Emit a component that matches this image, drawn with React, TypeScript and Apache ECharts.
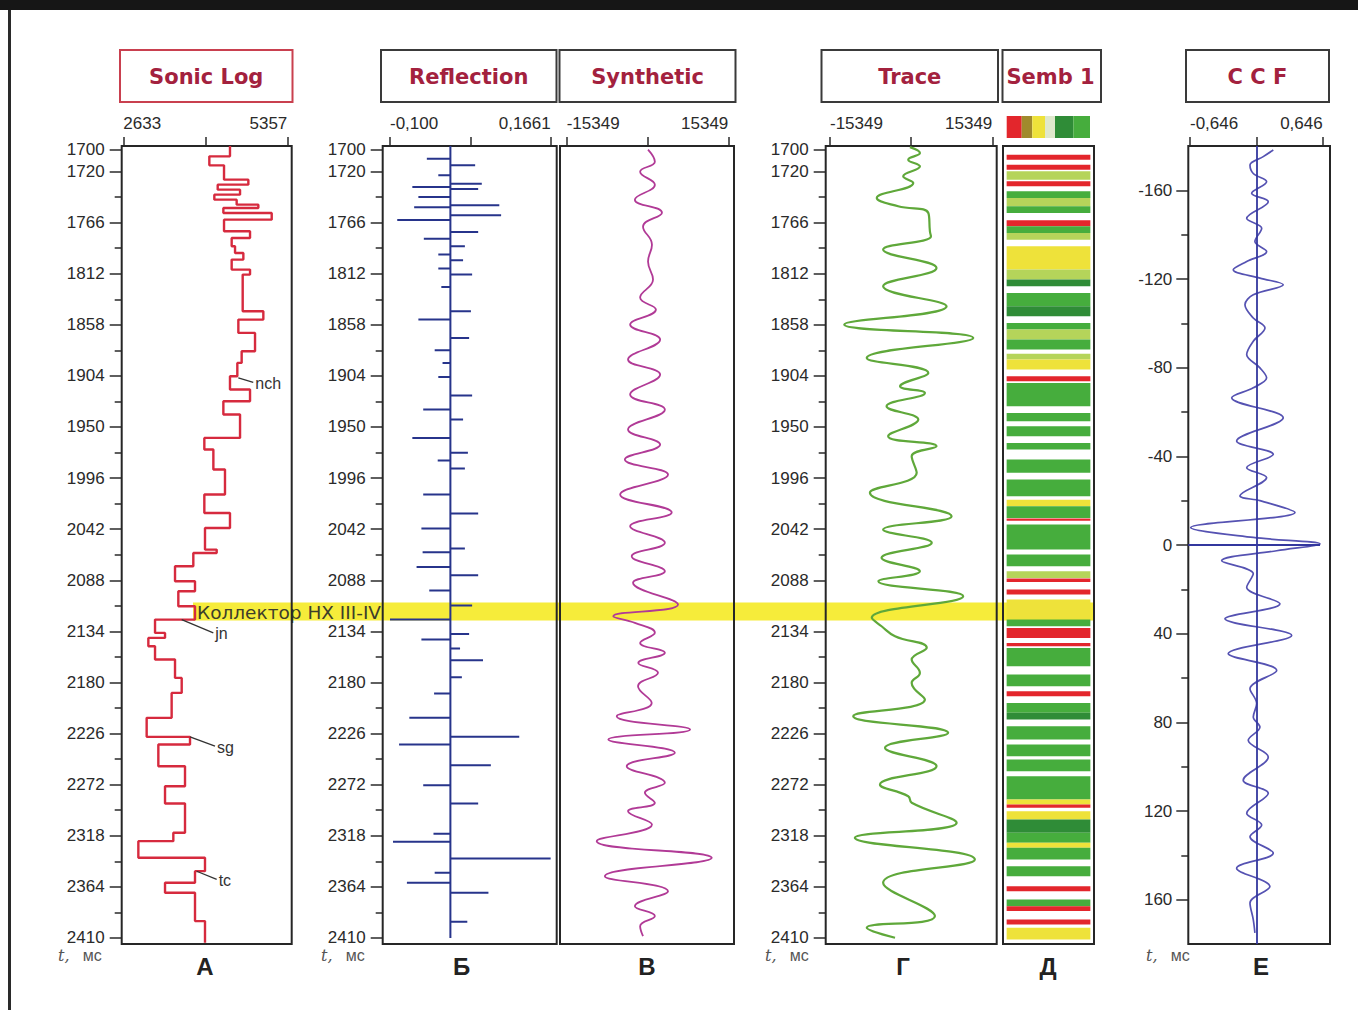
import React, { useEffect, useRef } from "react";
import * as echarts from "echarts";

// ---------------- texts ----------------
const panelTitles = ["Sonic Log", "Reflection", "Synthetic", "Trace", "Semb 1", "C C F"];
const panelLetters = ["А", "Б", "В", "Г", "Д", "Е"];
const unitText = "мс";
const collectorLabel = "Коллектор НХ III-IV";

// ---------------- axes ----------------
const timeRange = [1697, 2415.5];
const timeMajorTicks = [1700, 1720, 1766, 1812, 1858, 1904, 1950, 1996, 2042, 2088, 2134, 2180, 2226, 2272, 2318, 2364, 2410];
const timeMinorTicks = [1743, 1789, 1835, 1881, 1927, 1973, 2019, 2065, 2111, 2157, 2203, 2249, 2295, 2341, 2387];
const lagRange = [-180, 180];
const lagMajorTicks = [-160, -120, -80, -40, 0, 40, 80, 120, 160];
const lagMinorTicks = [-140, -100, -60, -20, 20, 60, 100, 140];

const sonicRange = [2633, 5357];
const sonicTickLabels = ["2633", "5357"];
const reflRange = [-0.1, 0.1661];
const reflTickLabels = ["-0,100", "0,1661"];
const synthRange = [-15349, 15349];
const synthTickLabels = ["-15349", "15349"];
const traceRange = [-15349, 15349];
const traceTickLabels = ["-15349", "15349"];
const ccfRange = [-0.646, 0.646];
const ccfTickLabels = ["-0,646", "0,646"];

// ---------------- Sonic log (step: top time of each layer, velocity) ----------------
const sonicTop = [1697, 1706.3, 1714.4, 1727.3, 1731.8, 1736.3, 1740.8, 1745.3, 1749.8, 1752.8, 1757.3, 1763.3, 1773.8, 1779.8, 1787.3, 1793.3, 1799.3, 1808.3, 1812.8, 1845.8, 1853.3, 1865.3, 1881.8, 1892.3, 1904.3, 1916.3, 1926.8, 1938.8, 1959.8, 1970.3, 1988.3, 2010.8, 2027.4, 2040.9, 2060.4, 2063.4, 2075.4, 2088.9, 2097.9, 2111.4, 2123.4, 2135.4, 2139.9, 2147.4, 2159.4, 2175.9, 2189.4, 2211.9, 2229.0, 2235.9, 2255.4, 2273.4, 2289.0, 2315.4, 2322.9, 2337.9, 2349.9, 2360.4, 2369.4, 2394.9];
const sonicVel = [4405, 4062, 4306, 4710, 4201, 4572, 4145, 4516, 4876, 4295, 5098, 4306, 4738, 4433, 4489, 4627, 4433, 4738, 4616, 4959, 4544, 4821, 4599, 4527, 4405, 4738, 4295, 4572, 3979, 4129, 4322, 3979, 4405, 3990, 4184, 3796, 3492, 3824, 3547, 3824, 3160, 3326, 3049, 3160, 3492, 3603, 3436, 3021, 3741, 3215, 3658, 3326, 3658, 3464, 2883, 3990, 3824, 3326, 3824, 3990];
const sonicBottom = 2414.4;

// annotations on the sonic log
const annotationNames = ["nch", "jn", "sg", "tc"];
const annotationTime = [1905.8, 2123.4, 2229, 2350];
const annotationVel = [4543, 3603, 3741, 3852];
const annotationLabelTime = [1909.8, 2135.3, 2237.4, 2357.4];
const annotationLabelVel = [4792, 4128, 4156, 4184];

// ---------------- Reflection coefficients ----------------
const reflSpine = [1697, 2410];
const reflTime = [1708.4, 1714.4, 1723.4, 1730.9, 1733.9, 1735.7, 1742.9, 1750.4, 1752.2, 1759.4, 1763.6, 1774.4, 1780.4, 1787.3, 1794.8, 1799.9, 1807.4, 1812.8, 1823.9, 1845.8, 1853.3, 1869.8, 1880.9, 1892.3, 1904.9, 1921.7, 1934.3, 1943.3, 1959.8, 1973.3, 1980.2, 1987.4, 2010.8, 2028.0, 2041.5, 2059.5, 2062.8, 2076.0, 2083.5, 2097.3, 2110.8, 2123.4, 2136.3, 2141.4, 2149.5, 2160.0, 2175.3, 2190.0, 2211.9, 2229.0, 2235.9, 2254.5, 2272.5, 2289.0, 2316.3, 2323.5, 2338.5, 2351.4, 2360.4, 2369.4, 2395.5];
const reflCoef = [-0.039, 0.041, -0.020, 0.052, -0.063, 0.046, -0.053, 0.081, -0.060, 0.084, -0.088, 0.046, -0.044, 0.024, -0.020, 0.021, -0.020, 0.036, -0.015, 0.034, -0.053, 0.031, -0.026, -0.013, -0.020, 0.036, -0.045, 0.021, -0.063, 0.029, -0.021, 0.024, -0.045, 0.046, -0.048, 0.024, -0.046, -0.056, 0.046, -0.035, 0.036, -0.100, 0.031, -0.048, 0.016, 0.054, 0.019, -0.027, -0.068, 0.114, -0.085, 0.067, -0.045, 0.046, -0.028, -0.095, 0.166, -0.026, -0.072, 0.063, 0.028];

// ---------------- Synthetic seismogram ----------------
const synthTime = [1700.3, 1711.1, 1720.1, 1731.8, 1745.3, 1757.0, 1769.6, 1785.8, 1801.1, 1817.3, 1833.5, 1844.3, 1857.8, 1871.3, 1889.3, 1902.8, 1920.8, 1934.3, 1952.3, 1965.8, 1979.3, 1992.8, 2010.8, 2027.0, 2039.4, 2054.3, 2066.4, 2079.9, 2090.3, 2109.9, 2120.4, 2126.4, 2135.3, 2144.4, 2153.3, 2162.4, 2171.3, 2183.4, 2198.4, 2210.4, 2222.4, 2231.4, 2243.4, 2255.4, 2270.4, 2279.4, 2288.4, 2295.9, 2307.9, 2322.9, 2337.9, 2354.4, 2368.0, 2381.5, 2390.4, 2399.5, 2408.5];
const synthAmp = [100, 1400, -1400, 1400, -2400, 2750, -850, 850, 100, 1050, -1400, 1600, -3300, 2400, -3700, 2400, -3300, 3300, -3700, 2400, -4300, 3900, -5200, 4600, -3300, 3300, -3000, 3300, -2750, 5800, -6500, -2400, 1400, -1400, 3300, -1750, 2000, -1800, 800, -5850, 8100, -7450, 5200, -3950, 3300, -500, 1400, -3700, 850, -9650, 12200, -8100, 3900, -2400, 1400, -1400, -850];

// ---------------- Field trace ----------------
const traceTime = [1698, 1703.3, 1709.3, 1715.3, 1724.3, 1730.3, 1743.8, 1751.3, 1757.3, 1773.8, 1778.3, 1790.3, 1806.8, 1823.3, 1841.3, 1857.8, 1869.8, 1887.8, 1901.3, 1913.4, 1919.3, 1931.4, 1943.3, 1958.4, 1967.4, 1976.4, 1991.3, 2009.3, 2030.4, 2042.4, 2054.3, 2067.8, 2079.9, 2088.9, 2102.4, 2121.8, 2129.4, 2138.4, 2148.8, 2159.4, 2171.4, 2180.4, 2195.4, 2210.4, 2225.4, 2238.9, 2255.4, 2271.9, 2282.4, 2288.4, 2306.4, 2319.9, 2339.4, 2360.4, 2390.4, 2400.9, 2409.9];
const traceAmp = [-230, 1660, -550, 1660, -1500, 400, -6500, -2450, 3250, 3550, 3750, -5300, 4800, -5300, 6700, -12650, 11750, -8400, 3250, -2100, 2600, -4650, 1350, -4350, 4800, 100, 1050, -7800, 7650, -5300, 3900, -5600, 1650, -6200, 9850, -7450, -5600, -3050, 2950, 100, 1650, 100, 2600, -10950, 7000, -4950, 4800, -5900, -550, 100, 8600, -10650, 12050, -5300, 4500, -8400, -3050];

// ---------------- Semblance stripes ----------------
const sembStart = [1704.8, 1713.8, 1719.8, 1728.8, 1737.8, 1743.8, 1751.3, 1763.9, 1769.3, 1775.3, 1787.3, 1808.3, 1817.3, 1829.3, 1841.3, 1856.3, 1862.3, 1871.3, 1884, 1889.3, 1904.3, 1910.3, 1937.3, 1949.3, 1964.3, 1979.3, 1997.3, 2015.4, 2021.4, 2032.5, 2037.9, 2064.9, 2079.9, 2086.5, 2096.4, 2105.4, 2123.4, 2130.9, 2144.4, 2148.9, 2172.9, 2187.9, 2198.4, 2207.4, 2219.4, 2235.9, 2249.4, 2264.4, 2285.4, 2289.9, 2295.9, 2303.4, 2315.4, 2324.4, 2328.9, 2345.4, 2363.4, 2375.4, 2381.4, 2393.4, 2400.9];
const sembEnd = [1709.3, 1718.3, 1727.3, 1733.3, 1743.8, 1751.3, 1757.3, 1769.3, 1775.3, 1781.3, 1808.3, 1817.3, 1823.3, 1841.3, 1850.3, 1862.3, 1871.3, 1880.3, 1889.3, 1898.3, 1908.8, 1931.3, 1944.8, 1958.3, 1970.3, 1991.3, 2012.3, 2021.4, 2031.9, 2034.5, 2060.4, 2075.4, 2085.9, 2089.5, 2100.9, 2123.4, 2129.4, 2139.9, 2147.4, 2165.4, 2183.4, 2192.4, 2207.4, 2213.4, 2231.4, 2246.4, 2259.9, 2285.4, 2289.9, 2292.9, 2303.4, 2315.4, 2324.4, 2328.9, 2339.4, 2354.4, 2367.9, 2381.4, 2385.9, 2397.9, 2411.4];
const sembClass = ["R", "R", "L", "R", "G", "L", "G", "R", "G", "L", "Y", "L", "D", "G", "D", "G", "L", "G", "L", "Y", "R", "G", "G", "G", "G", "G", "G", "Y", "G", "R", "G", "G", "L", "R", "R", "Y", "G", "R", "R", "G", "G", "R", "G", "D", "G", "G", "G", "G", "Y", "R", "Y", "D", "G", "Y", "G", "G", "R", "G", "R", "R", "Y"];
const sembLegendClasses = ["R", "O", "Y", "P", "D", "G"];

// ---------------- Cross-correlation function ----------------
const ccfLag = [-178.2, -175.2, -171.4, -167.6, -163.9, -158.7, -154.9, -147.4, -142.9, -136.9, -132.4, -127.9, -124.2, -120.4, -117.4, -112.9, -108.4, -102.4, -97.9, -91.9, -85.9, -79.9, -75.4, -70.9, -66.4, -57.4, -46.9, -40.9, -34.9, -30.4, -22.2, -20.0, -14.7, -7.9, -3.4, -0.45, 2.6, 7.1, 13.0, 19.1, 26.5, 33.3, 40.8, 49.0, 56.6, 64.8, 71.5, 77.6, 82.1, 88.1, 95.6, 106.1, 112.0, 121.0, 126.3, 131.6, 139.0, 145.8, 154.1, 161.5, 169.0, 175.0];
const ccfValue = [0.165, 0.067, -0.062, -0.030, 0.100, -0.046, 0.116, -0.094, 0.052, -0.014, 0.100, -0.094, -0.225, 0.035, 0.262, -0.030, -0.111, -0.030, 0.084, -0.030, -0.094, 0.035, 0.100, -0.030, -0.240, 0.262, -0.192, 0.165, -0.094, 0.100, -0.160, 0.035, 0.376, -0.640, -0.030, 0.620, 0.198, -0.338, -0.030, -0.094, 0.230, -0.306, 0.344, -0.274, 0.198, -0.062, 0.003, -0.030, 0.035, -0.079, 0.116, -0.128, 0.116, -0.094, 0.052, -0.062, 0.165, -0.192, 0.132, -0.062, -0.030, -0.014];

// collector interval (time)
const collectorTime = [2108.1, 2124.3];

// ---------------- layout & style ----------------
const W = 1358;
const H = 1010;
const BOX_TOP = 146;
const BOX_H = 798;
const SANS = "'Liberation Sans', Arial, sans-serif";
const TITLE_FONT = "'DejaVu Sans', Verdana, sans-serif";
const INK = "#2a2a2a";

const layouts = [
  { left: 121.7, width: 170, padLo: 1.6, padHi: 4.4 },
  { left: 382.7, width: 174, padLo: 7.3, padHi: 6 },
  { left: 560, width: 174, padLo: 6.7, padHi: 5.7 },
  { left: 825.7, width: 171, padLo: 4.3, padHi: 4.4 },
  { left: 1003, width: 91, padLo: 0, padHi: 0 },
  { left: 1188.3, width: 141.7, padLo: 1.7, padHi: 7.3 },
];
const titleBoxes = [
  { x: 120, w: 172.5, border: "#c9404f" },
  { x: 381, w: 175.5, border: "#3a3a3a" },
  { x: 559.5, w: 176, border: "#3a3a3a" },
  { x: 821.5, w: 176.5, border: "#3a3a3a" },
  { x: 1002.5, w: 98.5, border: "#3a3a3a" },
  { x: 1186, w: 143, border: "#3a3a3a" },
];
const letterX = [205, 461.5, 647, 903, 1048, 1261];
const unitX = [58, 321, 765, 1146];
const sembColors: Record<string, string> = {
  R: "#e3262c", O: "#a08a2c", Y: "#eee23a", P: "#dfe8cc", D: "#2f8c37", G: "#46ad3d", L: "#b5d45a",
};

function extent(range: number[], lay: any) {
  const k = (range[1] - range[0]) / (lay.width - lay.padLo - lay.padHi);
  return [range[0] - lay.padLo * k, range[1] + lay.padHi * k];
}

function topAxis(gridIndex: number, range: number[], labels: string[]) {
  const [mn, mx] = extent(range, layouts[gridIndex]);
  const mid = (range[0] + range[1]) / 2;
  return {
    gridIndex, type: "value", position: "top", min: mn, max: mx, z: 0,
    axisLine: { show: false, onZero: false }, splitLine: { show: false },
    axisTick: { show: true, inside: false, length: 9, customValues: [range[0], mid, range[1]], lineStyle: { color: INK, width: 1.5 } },
    axisLabel: {
      show: true, customValues: [range[0], range[1]],
      formatter: (v: number) => (Math.abs(v - range[0]) < 1e-9 ? labels[0] : labels[1]),
      alignMinLabel: "left", alignMaxLabel: "right", margin: 14, fontSize: 17, color: INK, fontFamily: SANS, hideOverlap: false,
    },
  };
}

function hiddenAxis(gridIndex: number, mn: number, mx: number, inverse = false) {
  return { gridIndex, type: "value", min: mn, max: mx, inverse, show: false, splitLine: { show: false }, axisLine: { onZero: false } };
}

function leftAxis(gridIndex: number, range: number[], major: number[], withLabels: boolean, tickLen: number, margin: number) {
  return {
    gridIndex, type: "value", inverse: true, min: range[0], max: range[1], position: "left", z: 0,
    axisLine: { show: false, onZero: false }, splitLine: { show: false },
    axisTick: { show: true, inside: false, length: tickLen, customValues: major, lineStyle: { color: INK, width: 1.5 } },
    axisLabel: {
      show: withLabels, customValues: major, margin, fontSize: 17, color: INK, fontFamily: SANS, hideOverlap: false,
      formatter: (v: number) => String(Math.round(v)),
    },
  };
}

function buildOption() {
  const grid: any[] = layouts.map((l) => ({
    left: l.left, top: BOX_TOP, width: l.width, height: BOX_H, show: true,
    borderColor: "#262626", borderWidth: 2, backgroundColor: "transparent", z: 3, containLabel: false, outerBoundsMode: "none",
  }));
  grid.push({ left: 0, top: BOX_TOP, width: W, height: BOX_H, show: false, z: 0, containLabel: false, outerBoundsMode: "none" });

  const xAxis: any[] = [
    topAxis(0, sonicRange, sonicTickLabels),
    topAxis(1, reflRange, reflTickLabels),
    topAxis(2, synthRange, synthTickLabels),
    topAxis(3, traceRange, traceTickLabels),
    hiddenAxis(4, 0, 1),
    topAxis(5, ccfRange, ccfTickLabels),
    hiddenAxis(6, 0, W),
  ];
  const yAxis: any[] = [
    leftAxis(0, timeRange, timeMajorTicks, true, 12, 17),
    leftAxis(1, timeRange, timeMajorTicks, true, 12, 17),
    hiddenAxis(2, timeRange[0], timeRange[1], true),
    leftAxis(3, timeRange, timeMajorTicks, true, 12, 17),
    hiddenAxis(4, timeRange[0], timeRange[1], true),
    leftAxis(5, lagRange, lagMajorTicks, true, 12, 16),
    hiddenAxis(6, timeRange[0], timeRange[1], true),
    leftAxis(0, timeRange, timeMinorTicks, false, 7, 17),
    leftAxis(1, timeRange, timeMinorTicks, false, 7, 17),
    leftAxis(3, timeRange, timeMinorTicks, false, 7, 17),
    leftAxis(5, lagRange, lagMinorTicks, false, 7, 16),
  ];

  // sonic step polyline
  const sonicData: number[][] = [];
  for (let i = 0; i < sonicTop.length; i++) {
    const t1 = i + 1 < sonicTop.length ? sonicTop[i + 1] : sonicBottom;
    sonicData.push([sonicVel[i], sonicTop[i]], [sonicVel[i], t1]);
  }
  // reflection spikes
  const reflData: number[][] = [[0, reflSpine[0]]];
  reflTime.forEach((t, i) => reflData.push([0, t], [reflCoef[i], t], [0, t]));
  reflData.push([0, reflSpine[1]]);

  const ccfXMin = extent(ccfRange, layouts[5])[0];
  const ccfPeak = Math.max(...ccfValue);

  const lineBase = { type: "line", symbol: "none", showSymbol: false, silent: true, z: 4, emphasis: { disabled: true } };

  const series: any[] = [
    // collector band across panels
    {
      type: "custom", xAxisIndex: 6, yAxisIndex: 6, z: 2, silent: true,
      data: [[193, 1094, collectorTime[0], collectorTime[1]]],
      encode: { x: [0, 1], y: [2, 3] },
      renderItem: (_p: any, api: any) => {
        const p0 = api.coord([api.value(0), api.value(2)]);
        const p1 = api.coord([api.value(1), api.value(3)]);
        return {
          type: "group",
          children: [
            { type: "rect", shape: { x: p0[0], y: p0[1], width: p1[0] - p0[0], height: p1[1] - p0[1] }, style: { fill: "#f6ec3a" } },
            {
              type: "text", x: p0[0] + 4, y: (p0[1] + p1[1]) / 2 + 1,
              style: { text: collectorLabel, fill: "#3d3d2a", fontSize: 18.5, fontFamily: TITLE_FONT, align: "left", verticalAlign: "middle", textAlign: "left", textVerticalAlign: "middle" },
            },
          ],
        };
      },
    },
    { ...lineBase, xAxisIndex: 0, yAxisIndex: 0, data: sonicData, lineStyle: { color: "#d62a3e", width: 2.4 } },
    {
      type: "custom", xAxisIndex: 0, yAxisIndex: 0, z: 5, silent: true,
      data: annotationNames.map((_, i) => [annotationVel[i], annotationTime[i], annotationLabelVel[i], annotationLabelTime[i]]),
      encode: { x: [0, 2], y: [1, 3] },
      renderItem: (p: any, api: any) => {
        const a = api.coord([api.value(0), api.value(1)]);
        const b = api.coord([api.value(2), api.value(3)]);
        return {
          type: "group",
          children: [
            { type: "line", shape: { x1: a[0], y1: a[1], x2: b[0], y2: b[1] }, style: { stroke: "#333", lineWidth: 1.3 } },
            {
              type: "text", x: b[0] + 2, y: b[1] + 1,
              style: { text: annotationNames[p.dataIndex], fill: "#333", fontSize: 16, fontFamily: SANS, align: "left", verticalAlign: "middle", textAlign: "left", textVerticalAlign: "middle" },
            },
          ],
        };
      },
    },
    { ...lineBase, xAxisIndex: 1, yAxisIndex: 1, data: reflData, lineStyle: { color: "#27348b", width: 2 } },
    { ...lineBase, xAxisIndex: 2, yAxisIndex: 2, smooth: 0.45, data: synthTime.map((t, i) => [synthAmp[i], t]), lineStyle: { color: "#b13a96", width: 1.8 } },
    { ...lineBase, xAxisIndex: 3, yAxisIndex: 3, smooth: 0.45, data: traceTime.map((t, i) => [traceAmp[i], t]), lineStyle: { color: "#5fa83a", width: 2.2 } },
    {
      type: "custom", xAxisIndex: 4, yAxisIndex: 4, z: 4, silent: true,
      data: sembStart.map((s, i) => [0.5, s, sembEnd[i]]),
      encode: { x: 0, y: [1, 2] },
      renderItem: (p: any, api: any) => {
        const a = api.coord([0.04, api.value(1)]);
        const b = api.coord([0.96, api.value(2)]);
        return { type: "rect", shape: { x: a[0], y: a[1], width: b[0] - a[0], height: b[1] - a[1] }, style: { fill: sembColors[sembClass[p.dataIndex]] } };
      },
    },
    {
      ...lineBase, xAxisIndex: 5, yAxisIndex: 5, smooth: 0.35, data: ccfLag.map((l, i) => [ccfValue[i], l]),
      lineStyle: { color: "#5552b2", width: 1.7 },
      markLine: {
        silent: true, symbol: ["none", "none"], label: { show: false }, animation: false,
        lineStyle: { color: "#33379e", width: 1.8, type: "solid" },
        emphasis: { disabled: true },
        data: [{ xAxis: 0 }, [{ coord: [ccfXMin, 0] }, { coord: [ccfPeak, 0] }]],
      },
    },
  ];

  const graphic: any[] = [];
  graphic.push({ type: "rect", shape: { x: 0, y: 0, width: W, height: 10 }, style: { fill: "#161616" }, z: 10 });
  graphic.push({ type: "rect", shape: { x: 8, y: 10, width: 3, height: H - 10 }, style: { fill: "#2a2a2a" }, z: 10 });
  titleBoxes.forEach((b, i) => {
    const isSemb = i === 4;
    graphic.push({
      type: "text", z: 10,
      x: isSemb ? b.x + 4 : b.x + b.w / 2, y: 77,
      style: {
        text: panelTitles[i], fill: "#a3213e", fontSize: 21, fontWeight: "bold", fontFamily: TITLE_FONT,
        align: isSemb ? "left" : "center", verticalAlign: "middle", textAlign: isSemb ? "left" : "center", textVerticalAlign: "middle",
      },
    });
    graphic.push({ type: "rect", z: 11, shape: { x: b.x, y: 50, width: b.w, height: 52 }, style: { fill: "none", stroke: b.border, lineWidth: 2 } });
  });
  // semblance colour legend
  const legendWidths = [15, 10.6, 12.7, 10, 18.3, 16.7];
  let lx = 1006.7;
  sembLegendClasses.forEach((c, i) => {
    graphic.push({ type: "rect", z: 10, shape: { x: lx, y: 116, width: legendWidths[i], height: 22 }, style: { fill: sembColors[c] } });
    lx += legendWidths[i];
  });
  panelLetters.forEach((t, i) => {
    graphic.push({
      type: "text", z: 10, x: letterX[i], y: 966,
      style: { text: t, fill: "#222", fontSize: 24, fontWeight: "bold", fontFamily: SANS, align: "center", verticalAlign: "middle", textAlign: "center", textVerticalAlign: "middle" },
    });
  });
  unitX.forEach((x) => {
    graphic.push({
      type: "text", z: 10, x, y: 955,
      style: {
        text: "{i|t,}   " + unitText, fill: "#555", fontSize: 16, fontFamily: SANS, align: "left", verticalAlign: "middle", textAlign: "left", textVerticalAlign: "middle",
        rich: { i: { fontStyle: "italic", fontSize: 16, fill: "#555", fontFamily: "'DejaVu Serif', serif" } },
      },
    });
  });

  return {
    animation: false,
    backgroundColor: "#ffffff",
    textStyle: { fontFamily: SANS },
    grid, xAxis, yAxis, series, graphic,
  };
}

export default function App() {
  const ref = useRef<HTMLDivElement>(null);
  useEffect(() => {
    if (!ref.current) return;
    const chart = echarts.init(ref.current, null, { renderer: "svg", width: W, height: H });
    chart.setOption(buildOption() as any);
    return () => chart.dispose();
  }, []);
  return <div ref={ref} style={{ position: "absolute", left: 0, top: 0, width: W, height: H, background: "#fff" }} />;
}
